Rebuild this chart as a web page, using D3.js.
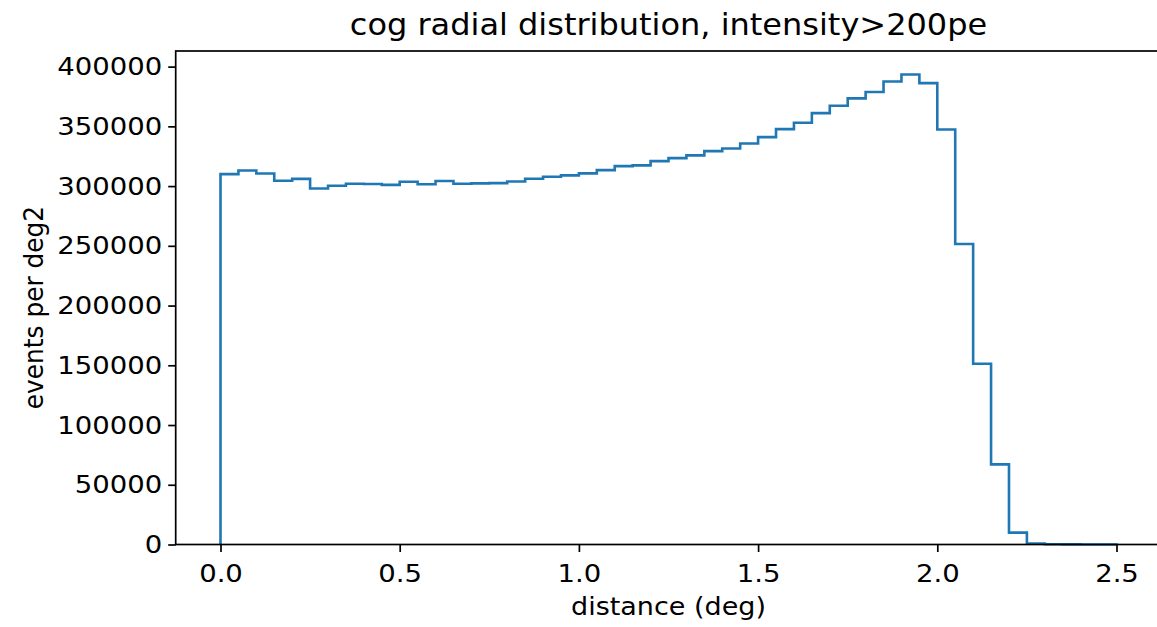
<!DOCTYPE html>
<html>
<head>
<meta charset="utf-8">
<script src="https://cdn.jsdelivr.net/npm/d3@7"></script>
<style>
  body { margin: 0; background: #fff; }
  text { font-family: "DejaVu Sans", sans-serif; fill: #000; }
</style>
</head>
<body>
<div id="container"></div>
<script>
/* CONSTANTS AND GLOBALS */
const width = 1157,
  height = 627,
  margin = { top: 51, bottom: 82.5, left: 175.7, right: -4.3 };
const squash = 0.92; // text in the picture is a bit flattened

// histogram bins: 0.05 deg wide, 0 -> 2.5 deg
const binEdges = d3.range(0, 51).map(i => +(i * 0.05).toFixed(2));
const counts = [
  310000, 313000, 310500, 304500, 306000, 298000, 300300, 302000, 301800, 301000,
  303600, 301500, 304200, 302000, 302300, 302500, 303900, 306100, 307800, 309000,
  310600, 313400, 316700, 317300, 320900, 323400, 325700, 329300, 331500, 335700,
  341000, 347700, 353000, 361100, 367200, 373400, 378700, 387600, 393400, 386200,
  347400, 251500, 151300, 67100, 9900, 800, 200, 100, 50, 20
];
const xTicks = [0, 0.5, 1.0, 1.5, 2.0, 2.5];
const yTicks = [0, 50000, 100000, 150000, 200000, 250000, 300000, 350000, 400000];

const svg = d3.select("#container")
  .append("svg")
  .attr("width", width)
  .attr("height", height);

const x = d3.scaleLinear()
  .domain([-0.125, 2.625])
  .range([margin.left, width - margin.right]);

const y = d3.scaleLinear()
  .domain([0, d3.max(counts) * 1.05])
  .range([height - margin.bottom, margin.top]);

// step outline like matplotlib histtype="step"
const pts = [[binEdges[0], 0]]
  .concat(counts.map((c, i) => [binEdges[i], c]))
  .concat([[binEdges[50], counts[49]], [binEdges[50], 0]]);

const line = d3.line()
  .x(d => x(d[0]))
  .y(d => y(d[1]))
  .curve(d3.curveStepAfter);

svg.append("path")
  .datum(pts)
  .attr("fill", "none")
  .attr("stroke", "#1f77b4")
  .attr("stroke-width", 2.6)
  .attr("d", line);

// AXES
const xAxis = svg.append("g")
  .attr("transform", `translate(0,${height - margin.bottom})`)
  .call(d3.axisBottom(x).tickValues(xTicks).tickFormat(d3.format(".1f")).tickSizeOuter(0).tickSize(7.5).tickPadding(14));

const yAxis = svg.append("g")
  .attr("transform", `translate(${margin.left},0)`)
  .call(d3.axisLeft(y).tickValues(yTicks).tickFormat(d3.format("d")).tickSizeOuter(0).tickSize(7.5).tickPadding(6));

[xAxis, yAxis].forEach(g => {
  g.select(".domain").remove();
  g.selectAll(".tick line").attr("stroke", "#000").attr("stroke-width", 1.7);
  g.selectAll(".tick text")
    .style("font-size", "27.5px")
    .attr("fill", "#000")
    .attr("transform", `scale(1,${squash})`);
});

// spines
svg.append("rect")
  .attr("x", x.range()[0])
  .attr("y", margin.top)
  .attr("width", x.range()[1] - x.range()[0])
  .attr("height", height - margin.bottom - margin.top)
  .attr("fill", "none")
  .attr("stroke", "#000")
  .attr("stroke-width", 1.7);

// LABELS
const cx = 668.5;
svg.append("text")
  .attr("transform", `translate(${cx},35) scale(1,${squash})`)
  .attr("text-anchor", "middle")
  .style("font-size", "32px")
  .text("cog radial distribution, intensity>200pe");

svg.append("text")
  .attr("transform", `translate(${cx},615) scale(1,${squash})`)
  .attr("text-anchor", "middle")
  .style("font-size", "27px")
  .text("distance (deg)");

svg.append("text")
  .attr("transform", `translate(43,307.5) rotate(-90) scale(${squash},1)`)
  .attr("text-anchor", "middle")
  .style("font-size", "27px")
  .text("events per deg2");
</script>
</body>
</html>
